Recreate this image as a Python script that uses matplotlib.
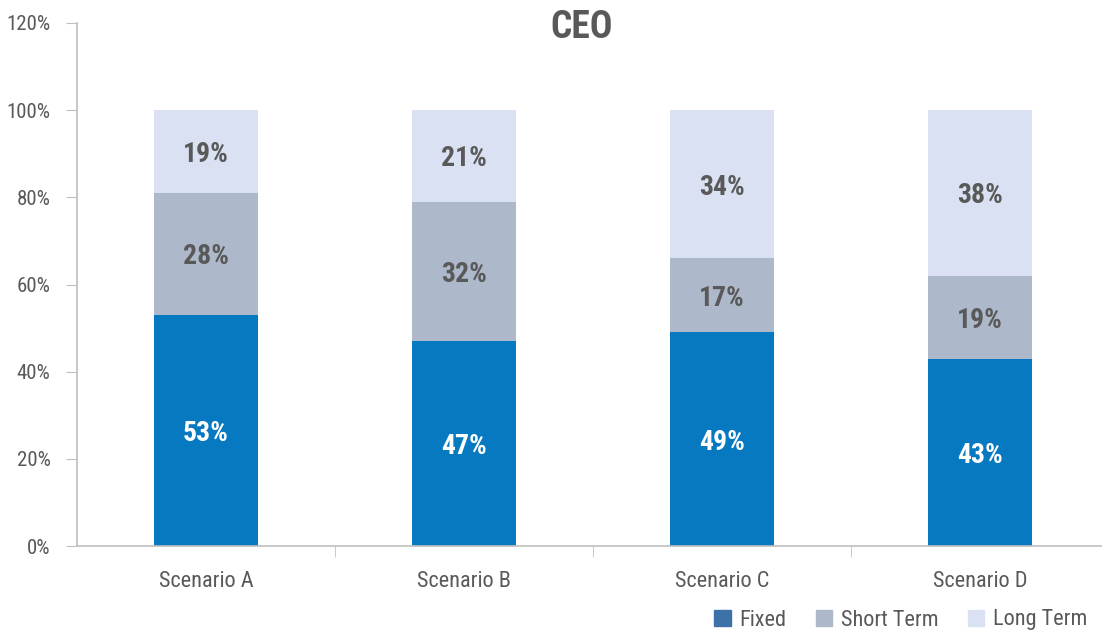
import matplotlib
matplotlib.use("Agg")
import matplotlib.pyplot as plt
from matplotlib.patches import Patch

plt.rcParams['font.family'] = ['Roboto Condensed', 'DejaVu Sans']

categories = ["Scenario A", "Scenario B", "Scenario C", "Scenario D"]
fixed = [53, 47, 49, 43]
short_term = [28, 32, 17, 19]
long_term = [19, 21, 34, 38]
series_names = ["Fixed", "Short Term", "Long Term"]
y_ticks = [0, 20, 40, 60, 80, 100, 120]

c_fixed = "#0779C1"
c_short = "#ADB9CA"
c_long = "#D9E1F2"
c_legend_fixed = "#3D72A8"
gray = "#595959"

fig = plt.figure(figsize=(11.02, 6.35), dpi=100)
ax = fig.add_axes([77/1102, 1-546/635, 1-77/1102, (546-23)/635])

x = list(range(len(categories)))
w = 0.4
ax.bar(x, fixed, w, color=c_fixed)
ax.bar(x, short_term, w, bottom=fixed, color=c_short)
bottoms3 = [f + s for f, s in zip(fixed, short_term)]
ax.bar(x, long_term, w, bottom=bottoms3, color=c_long)

lab_kw = dict(ha="center", va="center_baseline", fontsize=20, fontweight="bold")
for i in x:
    ax.text(i, fixed[i]/2, f"{fixed[i]}%", color="white", **lab_kw)
    ax.text(i, fixed[i] + short_term[i]/2, f"{short_term[i]}%", color=gray, **lab_kw)
    ax.text(i, bottoms3[i] + long_term[i]/2, f"{long_term[i]}%", color=gray, **lab_kw)

ax.set_xlim(-0.5, (1102-206)/258)
ax.set_ylim(0, 120)
ax.set_yticks(y_ticks)
ax.set_yticklabels([f"{t}%" for t in y_ticks], color=gray, fontsize=15)
ax.tick_params(axis="y", length=8, color="#BFBFBF", pad=11)

ax.set_xticks(x)
ax.set_xticklabels(categories, color=gray, fontsize=16)
ax.tick_params(axis="x", which="major", length=0, pad=18)
ax.set_xticks([0.5, 1.5, 2.5], minor=True)
ax.tick_params(axis="x", which="minor", length=8, color="#BFBFBF")

for s in ["top", "right"]:
    ax.spines[s].set_visible(False)
for s in ["left", "bottom"]:
    ax.spines[s].set_color("#BFBFBF")
    ax.spines[s].set_linewidth(1.2)

fig.text(582/1102, 1-27/635, "CEO", ha="center", va="center",
         fontsize=27, fontweight="bold", color=gray)

handles = [Patch(color=c_legend_fixed), Patch(color=c_short), Patch(color=c_long)]
fig.legend(handles, series_names, loc="center right", bbox_to_anchor=(1.005, 1-620/635),
           ncol=3, frameon=False, fontsize=16, labelcolor=gray,
           handlelength=0.75, handleheight=0.75, handletextpad=0.4, columnspacing=1.3)

fig.savefig("out.png", dpi=100)
